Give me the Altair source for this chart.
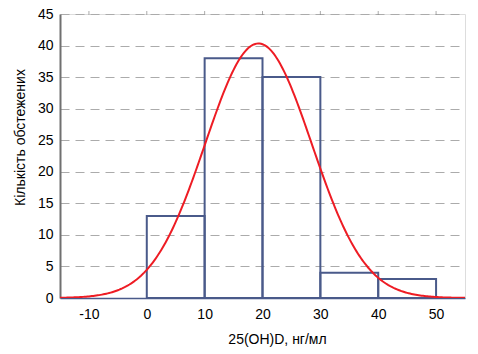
import altair as alt
import pandas as pd
import math

# Histogram bins (ng/ml) and counts
bin_start = [0, 10, 20, 30, 40]
bin_end = [10, 20, 30, 40, 50]
counts = [13, 38, 35, 4, 3]

# Fitted normal curve parameters
fit_mean = 19.3
fit_sd = 9.2
n_total = sum(counts)
bin_width = 10

x_ticks = [-10, 0, 10, 20, 30, 40, 50]
y_ticks = [0, 5, 10, 15, 20, 25, 30, 35, 40, 45]

bars_df = pd.DataFrame({"start": bin_start, "end": bin_end, "count": counts})

FONT = "Liberation Sans, Arial, sans-serif"
BAR_COLOR = "#4A5A8A"
RED = "#EE1C24"

xscale = alt.Scale(domain=[-15, 55], nice=False, zero=False)
yscale = alt.Scale(domain=[0, 45], nice=False)

label_expr = "datum.value < 0 ? '-' + abs(datum.value) : '' + datum.value"

xaxis = alt.Axis(values=x_ticks, title="25(OH)D, нг/мл", grid=False, ticks=False,
                 domainColor=BAR_COLOR, domainWidth=1.5, labelPadding=9,
                 labelExpr=label_expr, labelOverlap=False,
                 titleX=217, titleY=41, titleBaseline="middle", titleFontWeight="normal",
                 labelFontSize=14, titleFontSize=14)
yaxis = alt.Axis(values=y_ticks, tickCount=10, title="Кількість обстежених", grid=True, ticks=False,
                 gridDash=[9, 6], gridColor="#ABABAB", gridWidth=1,
                 domainColor="#707070", domainWidth=2, labelPadding=7,
                 labelOverlap=False, labelExpr=label_expr,
                 titleX=-40, titleY=123, titleAngle=-90, titleAlign="center",
                 titleBaseline="middle", titleFontWeight="normal",
                 labelFontSize=14, titleFontSize=14)

bars = alt.Chart(bars_df).mark_rect(fill=None, fillOpacity=0, stroke=BAR_COLOR, strokeWidth=2).encode(
    x=alt.X("start:Q", scale=xscale, axis=xaxis),
    x2="end:Q",
    y=alt.Y("count:Q", scale=yscale, axis=yaxis),
    y2=alt.datum(0),
)

coef = n_total * bin_width / (fit_sd * math.sqrt(2 * math.pi))
curve = alt.Chart(alt.sequence(-15, 55.05, 0.25, as_="x")).transform_calculate(
    y=f"{coef} * exp(-0.5 * pow((datum.x - {fit_mean}) / {fit_sd}, 2))"
).mark_line(color=RED, strokeWidth=2, clip=True).encode(
    x=alt.X("x:Q", scale=xscale, axis=xaxis),
    y=alt.Y("y:Q", scale=yscale, axis=yaxis),
)

top_ticks = alt.Chart(pd.DataFrame({"t": x_ticks})).mark_tick(
    orient="vertical", color="#888888", size=4, thickness=1
).encode(
    x=alt.X("t:Q", scale=xscale, axis=xaxis),
    y=alt.value(-1),
)

chart = alt.layer(bars, curve, top_ticks).properties(
    width=405, height=284,
    autosize=alt.AutoSizeParams(type="none"),
    padding={"left": 60, "top": 14, "right": 13, "bottom": 56},
).configure_view(
    stroke="#000000", strokeWidth=2
).configure_axis(
    labelFont=FONT, titleFont=FONT, labelColor="#000000", titleColor="#000000",
).configure(background="#ffffff")

chart.save("out.html", embed_options={"renderer": "svg", "actions": False})
